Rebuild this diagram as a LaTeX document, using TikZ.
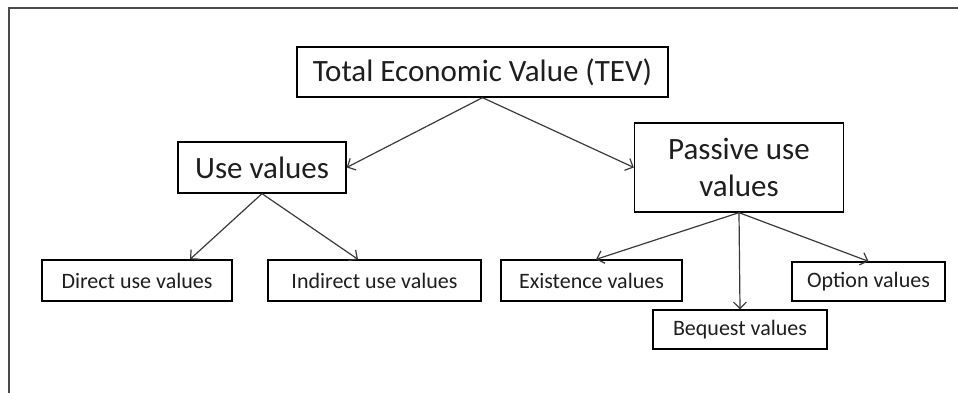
\documentclass[tikz,border=0pt]{standalone}
\usepackage{fontspec}
\setmainfont{Carlito}
\usetikzlibrary{arrows.meta}
\definecolor{framegray}{HTML}{4A4A4A}
\definecolor{linegray}{HTML}{3A3A3A}
\definecolor{txt}{HTML}{1E1E1E}
\tikzset{
  bigbox/.style={draw=black, line width=1.3pt, text=txt, inner sep=0pt,
    font=\fontsize{31}{37}\selectfont},
  smallbox/.style={draw=black, line width=1.3pt, text=txt, inner sep=0pt,
    font=\fontsize{22}{26}\selectfont},
  conn/.style={draw=linegray, line width=1.2pt,
    -{Straight Barb[length=6.5pt,width=13pt,line width=1.2pt]}},
  frameline/.style={draw=framegray, line width=2pt}
}
\begin{document}
\begin{tikzpicture}[x=1pt,y=-1pt]
\useasboundingbox (0,0) rectangle (958,393);
\coordinate (fTR) at (958,8.5);
\coordinate (fTL) at (8.5,8.5);
\coordinate (fBL) at (8.5,393);
\draw[frameline] (fTR) -- (fTL) -- (fBL);

\node[bigbox, minimum width=371pt, minimum height=50pt] (tev) at (482.5,72) {Total Economic Value (TEV)};
\node[bigbox, minimum width=168pt, minimum height=51pt] (use) at (262,167.5) {Use values};
\node[bigbox, minimum width=209pt, minimum height=89pt, align=center] (pas) at (739,167.5) {Passive use\\values};

\node[smallbox, minimum width=190pt, minimum height=41pt] (dir) at (137,280.5) {Direct use values};
\node[smallbox, minimum width=213pt, minimum height=41pt] (ind) at (374.5,280.5) {Indirect use values};
\node[smallbox, minimum width=181pt, minimum height=41pt] (exi) at (591.5,280.5) {Existence values};
\node[smallbox, minimum width=153pt, minimum height=39pt] (opt) at (868.5,281.5) {Option values};
\node[smallbox, minimum width=174pt, minimum height=39pt] (beq) at (740,329.5) {Bequest values};

\draw[conn] (tev.south) -- (use.east);
\draw[conn] (tev.south) -- (pas.west);
\draw[conn] (use.south) -- ([xshift=53pt]dir.north);
\draw[conn] (use.south) -- ([xshift=-16.5pt]ind.north);
\draw[conn] (pas.south) -- ([xshift=4.5pt]exi.north);
\draw[conn] (pas.south) -- (beq.north);
\draw[conn] (pas.south) -- (opt.north);
\end{tikzpicture}
\end{document}
